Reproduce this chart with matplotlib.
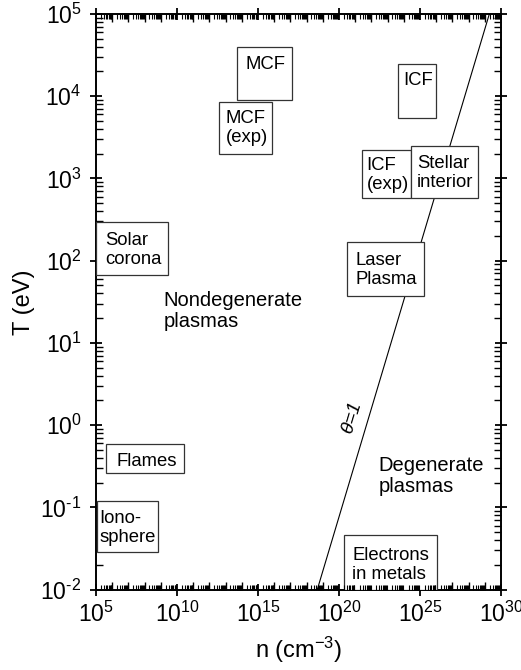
import matplotlib
matplotlib.use('Agg')
import matplotlib.pyplot as plt
from matplotlib.patches import Rectangle
from matplotlib.ticker import LogLocator, FixedLocator, NullFormatter, FuncFormatter
import numpy as np

plt.rcParams['font.family'] = ['Liberation Sans', 'DejaVu Sans']
plt.rcParams['mathtext.fontset'] = 'custom'
plt.rcParams['mathtext.rm'] = 'Liberation Sans'
plt.rcParams['mathtext.it'] = 'Liberation Sans:italic'

# plasma regimes: density range (cm^-3) and temperature range (eV)
names = ["MCF", "MCF\n(exp)", "ICF", "ICF\n(exp)", "Stellar\ninterior",
         "Solar\ncorona", "Laser\nPlasma", "Flames", "Iono-\nsphere",
         "Electrons\nin metals"]
n_lo = [5.2e13, 3.9e12, 4.6e23, 2.5e21, 2.7e24, 1e5, 3.2e20, 4.2e5, 1.1e5, 1.9e20]
n_hi = [1.2e17, 7.6e15, 1.0e26, 2.7e24, 4.0e28, 2.9e9, 1.8e25, 2.8e10, 6.5e8, 1.07e26]
T_lo = [8.9e3, 2.0e3, 5.5e3, 5.8e2, 5.8e2, 67, 37, 0.26, 0.029, 0.01]
T_hi = [4.0e4, 8.5e3, 2.5e4, 2.2e3, 2.5e3, 295, 170, 0.59, 0.12, 0.046]
# where each box label starts (upper left corner)
label_n = [10**14.24, 10**13.02, 10**23.97, 10**21.71, 10**24.80,
           10**5.574, 10**21.03, 10**6.235, 10**5.204, 10**20.82]
label_T = [10**4.489, 10**3.832, 10**4.298, 10**3.264, 10**3.285,
           10**2.352, 10**2.109, 10**-0.344, 10**-1.033, 10**-1.480]

# degeneracy line theta = 1
n_theta = [10**18.66, 10**29.28]
T_theta = [1e-2, 1e5]


def pow10(v, pos):
    e = int(round(np.log10(v)))
    if e < 0:
        return r"10$^{\text{-}%d}$" % (-e)
    return r"10$^{%d}$" % e


fig = plt.figure(figsize=(5.21, 6.70), dpi=100)
ax = fig.add_axes([0.1843, 0.1201, 0.7773, 0.859])
ax.set_xscale('log')
ax.set_yscale('log')
ax.set_xlim(1e5, 1e30)
ax.set_ylim(1e-2, 1e5)

ax.plot(n_theta, T_theta, color='k', lw=0.8, zorder=2)

for i in range(len(names)):
    ax.add_patch(Rectangle((n_lo[i], T_lo[i]), n_hi[i] - n_lo[i], T_hi[i] - T_lo[i],
                           facecolor='white', edgecolor='#333333', lw=0.9, zorder=3))
    ax.text(label_n[i], label_T[i], names[i], ha='left', va='top', fontsize=13.3,
            linespacing=1.15, zorder=4)

ax.text(10**9.154, 10**1.634, "Nondegenerate\nplasmas", ha='left', va='top',
        fontsize=14.5, linespacing=1.15)
ax.text(10**22.43, 10**-0.373, "Degenerate\nplasmas", ha='left', va='top',
        fontsize=14.5, linespacing=1.15)
ax.text(10**20.85, 10**0.080, r"$\theta$=1", ha='center', va='center',
        fontsize=14, rotation=73.4, style='italic')

# ticks
ax.xaxis.set_major_locator(FixedLocator([1e5, 1e10, 1e15, 1e20, 1e25, 1e30]))
ax.xaxis.set_minor_locator(FixedLocator([10.0**k for k in range(5, 31)]))
ax.xaxis.set_minor_formatter(NullFormatter())
ax.yaxis.set_major_locator(LogLocator(base=10, numticks=20))
ax.yaxis.set_minor_locator(LogLocator(base=10, subs=np.arange(2, 10), numticks=20))
ax.yaxis.set_minor_formatter(NullFormatter())
ax.xaxis.set_major_formatter(FuncFormatter(pow10))
ax.yaxis.set_major_formatter(FuncFormatter(pow10))
ax.tick_params(which='major', direction='inout', length=9, width=1.3,
               top=True, right=True, labelsize=16.5, pad=4)
ax.tick_params(axis='y', which='major', pad=6)
ax.tick_params(axis='x', which='minor', direction='in', length=6, width=1.0,
               top=True, bottom=True)
ax.tick_params(axis='y', which='minor', direction='in', length=5, width=1.0,
               left=True, right=True)
for s in ax.spines.values():
    s.set_linewidth(1.4)

# extra short ticks between decades along n
ax2 = fig.add_axes(ax.get_position(), frameon=False)
ax2.set_xscale('log')
ax2.set_xlim(1e5, 1e30)
ax2.xaxis.set_major_locator(FixedLocator([]))
ax2.xaxis.set_minor_locator(LogLocator(base=10, subs=np.arange(2, 10), numticks=40))
ax2.xaxis.set_minor_formatter(NullFormatter())
ax2.tick_params(axis='x', which='minor', direction='in', length=3.5, width=0.8,
                top=True, bottom=True, labelbottom=False, labeltop=False)
ax2.set_yticks([])
ax2.tick_params(axis='y', labelleft=False)
ax2.patch.set_visible(False)

ax.set_xlabel(r"n (cm$^{-3}$)", fontsize=17, labelpad=6)
ax.set_ylabel("T (eV)", fontsize=17, labelpad=4)

fig.savefig("out.png", dpi=100)
